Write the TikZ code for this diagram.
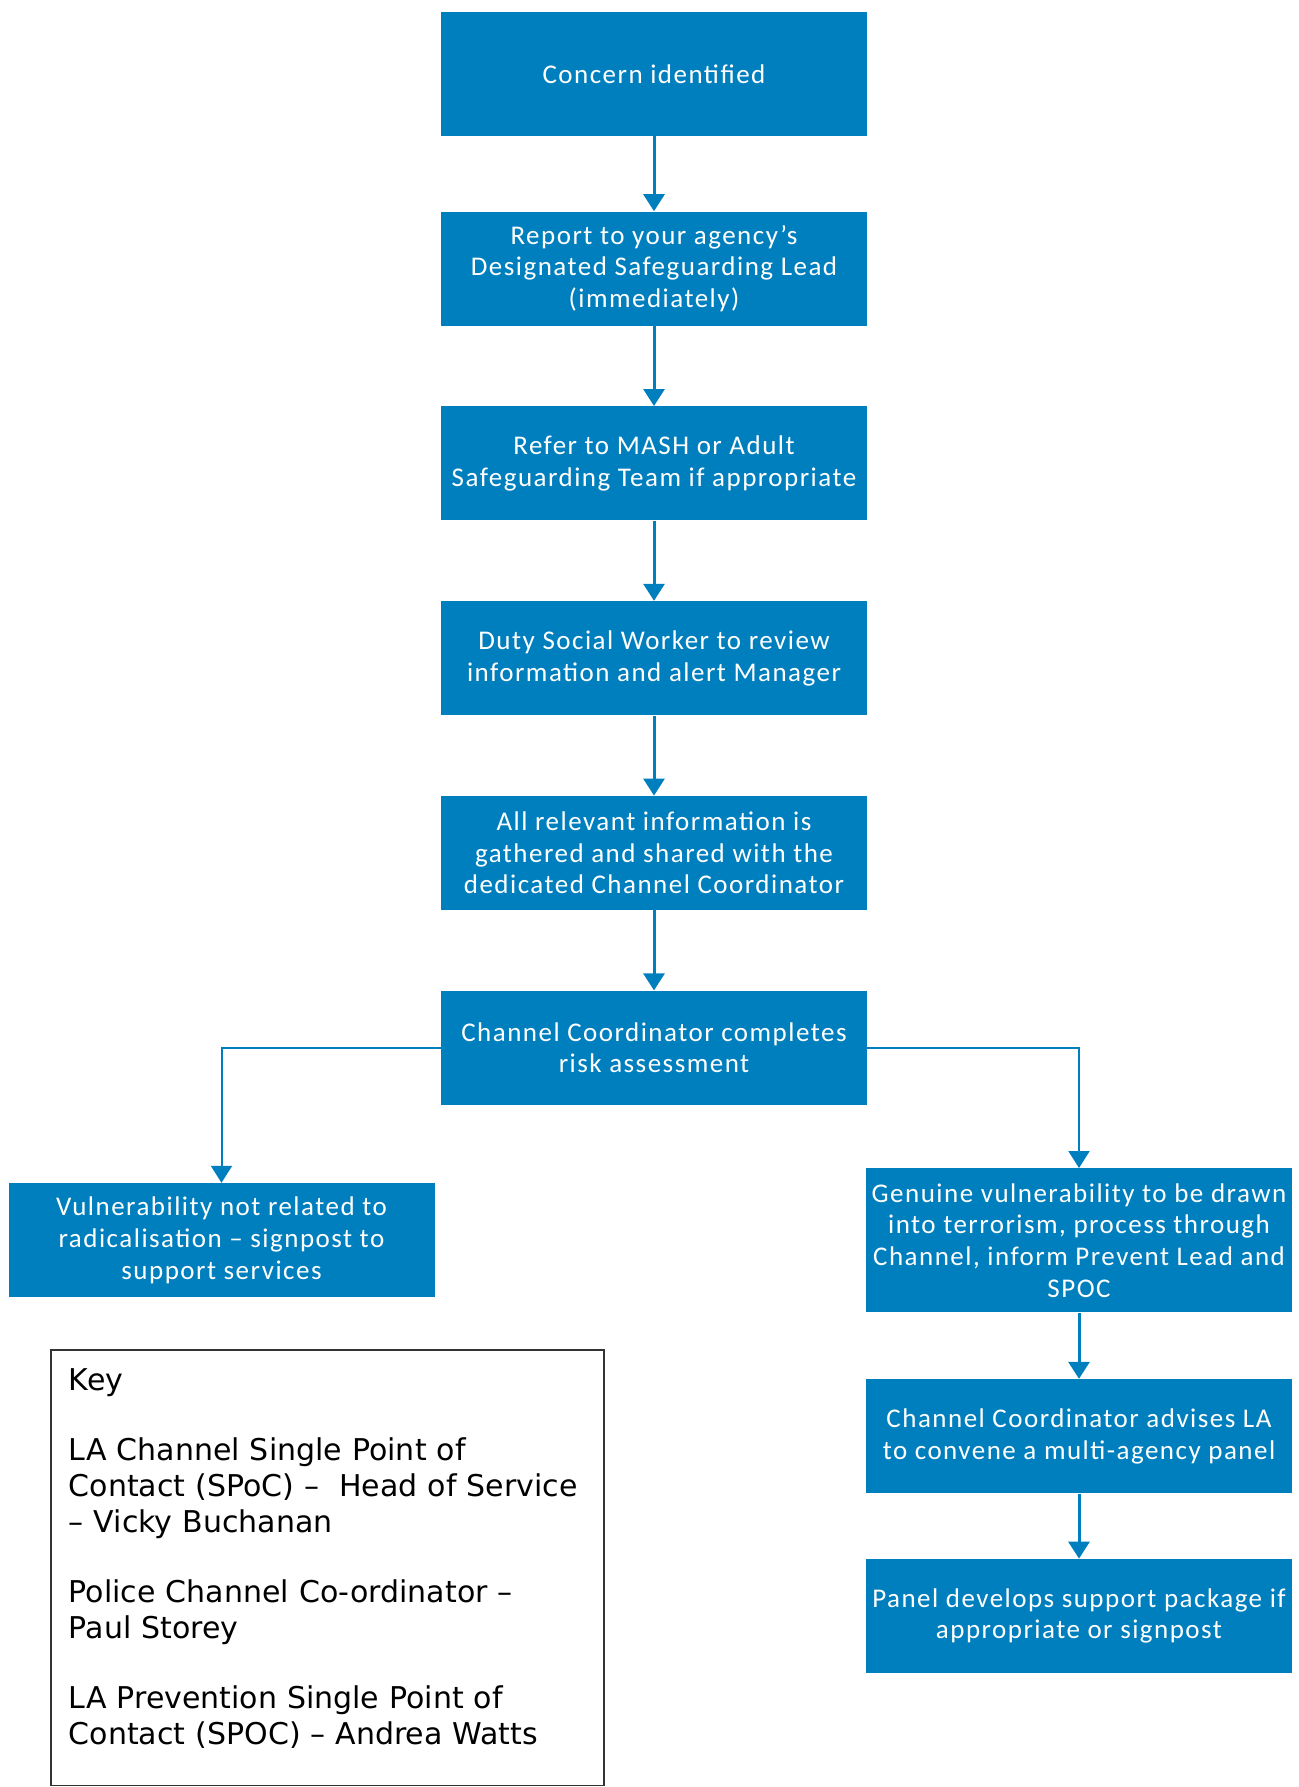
\documentclass[tikz,border=0pt]{standalone}
\usepackage{fontspec}
\usetikzlibrary{positioning,arrows.meta}
\newfontfamily\boxfont{Carlito}[LetterSpace=5.5]
\newfontfamily\keyfont{DejaVu Sans}
\definecolor{chanblue}{RGB}{0,127,190}

\begin{document}
\begin{tikzpicture}[x=0.5pt, y=-0.5pt, node distance=40pt]
  \tikzstyle{stepbox} = [rectangle, fill=chanblue, text=white,
  minimum width=213pt, minimum height=57pt, inner sep=0pt, align=center,
  font=\boxfont\fontsize{13.5pt}{15.85pt}\selectfont]
  \tikzstyle{flow} = [draw=chanblue, line width=1.5pt,
  -{Triangle[width=10.5pt, length=8.5pt]}]
  \tikzstyle{branch} = [flow, line width=1pt]

  \useasboundingbox (0,0) rectangle (1299,1787);

  % Main column
  \node[stepbox, minimum height=62pt, anchor=north] (concern) at (654,11.4)
    {Concern identified};
  \node[stepbox, below=37.5pt of concern] (report)
    {Report to your agency’s\\Designated Safeguarding Lead\\(immediately)};
  \node[stepbox, below=of report] (refer)
    {Refer to MASH or Adult\\Safeguarding Team if appropriate};
  \node[stepbox, below=of refer] (duty)
    {Duty Social Worker to review\\information and alert Manager};
  \node[stepbox, below=of duty] (gather)
    {All relevant information is\\gathered and shared with the\\dedicated Channel Coordinator};
  \node[stepbox, below=of gather] (assess)
    {Channel Coordinator completes\\risk assessment};

  % Branches
  \node[stepbox, anchor=north] (notrel) at (221.5,1182.8)
    {Vulnerability not related to\\radicalisation – signpost to\\support services};
  \node[stepbox, minimum height=72pt, anchor=north] (genuine) at (1079,1168)
    {Genuine vulnerability to be drawn\\into terrorism, process through\\Channel, inform Prevent Lead and\\SPOC};
  \node[stepbox, below=33pt of genuine] (panel)
    {Channel Coordinator advises LA\\to convene a multi-agency panel};
  \node[stepbox, below=32.5pt of panel] (support)
    {Panel develops support package if\\appropriate or signpost};

  % Key
  \node[draw=black!80, line width=0.9pt, anchor=north west, minimum width=276.5pt,
    minimum height=217.75pt, text width=258.5pt, inner xsep=9pt, align=left,
    text depth=188pt, font=\keyfont\fontsize{15pt}{18pt}\selectfont] (key) at (50,1349)
    {Key\\[17pt]
     LA Channel Single Point of\\Contact (SPoC) –\ \ Head of Service\\– Vicky Buchanan\\[17pt]
     Police Channel Co-ordinator –\\Paul Storey\\[17pt]
     LA Prevention Single Point of\\Contact (SPOC) – Andrea Watts};

  % Connectors
  \draw[flow] (concern) -- (report);
  \draw[flow] (report) -- (refer);
  \draw[flow] (refer) -- (duty);
  \draw[flow] (duty) -- (gather);
  \draw[flow] (gather) -- (assess);
  \draw[branch] (assess.west) -| (notrel.north);
  \draw[branch] (assess.east) -| (genuine.north);
  \draw[flow] (genuine) -- (panel);
  \draw[flow] (panel) -- (support);
\end{tikzpicture}
\end{document}
